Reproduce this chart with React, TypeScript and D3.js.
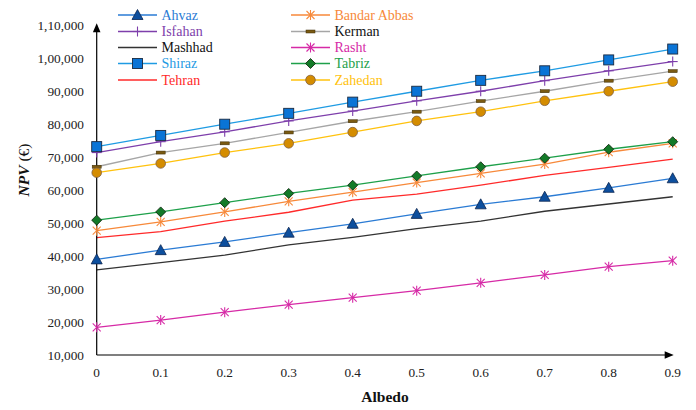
import React from "react";
import * as d3 from "d3";

const albedo = [0, 0.1, 0.2, 0.3, 0.4, 0.5, 0.6, 0.7, 0.8, 0.9];
const xTickLabels = ["0", "0.1", "0.2", "0.3", "0.4", "0.5", "0.6", "0.7", "0.8", "0.9"];
const yTickValues = [10000, 20000, 30000, 40000, 50000, 60000, 70000, 80000, 90000, 100000, 110000];
const yTickLabels = ["10,000", "20,000", "30,000", "40,000", "50,000", "60,000", "70,000", "80,000", "90,000", "1,00,000", "1,10,000"];

const ahvaz = [39000, 41800, 44300, 47100, 49800, 52800, 55700, 58000, 60700, 63600];
const bandarAbbas = [47700, 50400, 53400, 56600, 59400, 62300, 65100, 67900, 71500, 74200];
const isfahan = [71400, 74700, 77700, 81000, 84000, 87100, 90000, 93200, 96200, 99000];
const kerman = [67100, 71400, 74200, 77500, 80900, 83800, 87000, 90000, 93200, 96100];
const mashhad = [35800, 38000, 40300, 43400, 45700, 48300, 50600, 53600, 55800, 58000];
const rasht = [18400, 20600, 23000, 25300, 27400, 29500, 31900, 34300, 36800, 38600];
const shiraz = [73200, 76600, 80000, 83300, 86700, 90000, 93300, 96200, 99500, 102800];
const tabriz = [50900, 53400, 56200, 59000, 61500, 64300, 67100, 69700, 72400, 74700];
const tehran = [45600, 47400, 50600, 53300, 57000, 58800, 61500, 64500, 66900, 69400];
const zahedan = [65300, 68100, 71400, 74200, 77600, 81000, 83800, 87100, 90000, 92900];

type Marker = "triangle" | "asterisk" | "plus" | "dash" | "none" | "square" | "diamond" | "circle";
interface Series {
  name: string;
  values: number[];
  line: string;
  text: string;
  marker: Marker;
  fill: string;
  stroke: string;
}

const seriesList: Series[] = [
  { name: "Ahvaz", values: ahvaz, line: "#2a7bd4", text: "#2a7bd4", marker: "triangle", fill: "#0d4f9e", stroke: "#0a2550" },
  { name: "Bandar Abbas", values: bandarAbbas, line: "#f7893a", text: "#f7893a", marker: "asterisk", fill: "none", stroke: "#f7893a" },
  { name: "Isfahan", values: isfahan, line: "#7e3fab", text: "#7e3fab", marker: "plus", fill: "none", stroke: "#7e3fab" },
  { name: "Kerman", values: kerman, line: "#a6a6a6", text: "#111111", marker: "dash", fill: "#7a5a12", stroke: "#3a2a05" },
  { name: "Mashhad", values: mashhad, line: "#333333", text: "#111111", marker: "none", fill: "none", stroke: "none" },
  { name: "Rasht", values: rasht, line: "#d62aa6", text: "#d62aa6", marker: "asterisk", fill: "none", stroke: "#d62aa6" },
  { name: "Shiraz", values: shiraz, line: "#1f9be3", text: "#1f9be3", marker: "square", fill: "#0a74d6", stroke: "#1a2a40" },
  { name: "Tabriz", values: tabriz, line: "#1ea04a", text: "#1ea04a", marker: "diamond", fill: "#137a28", stroke: "#0a200a" },
  { name: "Tehran", values: tehran, line: "#ff2a2a", text: "#ff2a2a", marker: "none", fill: "none", stroke: "none" },
  { name: "Zahedan", values: zahedan, line: "#ffc20e", text: "#ffc20e", marker: "circle", fill: "#d48c00", stroke: "#806040" },
];

const legendLeft = ["Ahvaz", "Isfahan", "Mashhad", "Shiraz", "Tehran"];
const legendRight = ["Bandar Abbas", "Kerman", "Rasht", "Tabriz", "Zahedan"];

const FONT = "'Liberation Serif', 'Times New Roman', serif";

function MarkerShape({ type, cx, cy, fill, stroke }: { type: Marker; cx: number; cy: number; fill: string; stroke: string }) {
  switch (type) {
    case "triangle":
      return <path d={`M${cx},${cy - 5.5} L${cx + 5.5},${cy + 4.5} L${cx - 5.5},${cy + 4.5} Z`} fill={fill} stroke={stroke} strokeWidth={0.8} />;
    case "square":
      return <rect x={cx - 5} y={cy - 5} width={10} height={10} fill={fill} stroke={stroke} strokeWidth={0.9} />;
    case "diamond":
      return <path d={`M${cx},${cy - 5} L${cx + 5},${cy} L${cx},${cy + 5} L${cx - 5},${cy} Z`} fill={fill} stroke={stroke} strokeWidth={0.8} />;
    case "circle":
      return <circle cx={cx} cy={cy} r={4.8} fill={fill} stroke={stroke} strokeWidth={0.8} />;
    case "dash":
      return <rect x={cx - 4.5} y={cy - 1.5} width={9} height={3} fill={fill} stroke={stroke} strokeWidth={0.5} />;
    case "plus":
      return (
        <g stroke={stroke} strokeWidth={1.1}>
          <line x1={cx - 5} y1={cy} x2={cx + 5} y2={cy} />
          <line x1={cx} y1={cy - 5} x2={cx} y2={cy + 5} />
        </g>
      );
    case "asterisk":
      return (
        <g stroke={stroke} strokeWidth={1.1}>
          <line x1={cx - 4} y1={cy - 4} x2={cx + 4} y2={cy + 4} />
          <line x1={cx - 4} y1={cy + 4} x2={cx + 4} y2={cy - 4} />
          <line x1={cx} y1={cy - 5} x2={cx} y2={cy + 5} />
        </g>
      );
    default:
      return null;
  }
}

export default function App() {
  const width = 696;
  const height = 410;
  const x = d3.scaleLinear().domain([0, 0.9]).range([96.7, 672.7]);
  const y = d3.scaleLinear().domain([10000, 110000]).range([355, 25.3]);
  const lineGen = d3
    .line<number>()
    .x((_, i) => x(albedo[i]))
    .y((d) => y(d));

  const byName = (n: string) => seriesList.find((s) => s.name === n)!;
  const legendRows = [15, 31.5, 47.5, 63.5, 80];

  const x0 = x(0);
  const y0 = y(10000);
  const yTop = y(110000);
  const xEnd = x(0.9);

  return (
    <svg width={width} height={height} style={{ position: "absolute", left: 0, top: 0, background: "#fff" }} fontFamily={FONT}>
      <rect width={width} height={height} fill="#fff" />
      {/* series lines */}
      {seriesList.map((s) => (
        <path key={s.name + "l"} d={lineGen(s.values) || ""} fill="none" stroke={s.line} strokeWidth={1.3} />
      ))}
      {/* axes */}
      <line x1={x0} y1={y0} x2={x0} y2={yTop + 6} stroke="#000" strokeWidth={1.2} />
      <path d={`M${x0},${yTop - 2} L${x0 + 3.8},${yTop + 7} L${x0 - 3.8},${yTop + 7} Z`} fill="#000" />
      <line x1={x0} y1={y0} x2={xEnd - 6} y2={y0} stroke="#000" strokeWidth={1.2} />
      <path d={`M${xEnd + 1},${y0} L${xEnd - 8},${y0 - 3.8} L${xEnd - 8},${y0 + 3.8} Z`} fill="#000" />
      {/* markers */}
      {seriesList.map((s) =>
        s.values.map((v, i) => (
          <MarkerShape key={s.name + i} type={s.marker} cx={x(albedo[i])} cy={y(v)} fill={s.fill} stroke={s.stroke} />
        ))
      )}
      {/* y ticks */}
      {yTickValues.map((v, i) => (
        <text key={"yt" + i} x={84} y={y(v)} dy="0.35em" textAnchor="end" fontSize={13.3} fill="#222">
          {yTickLabels[i]}
        </text>
      ))}
      {/* x ticks */}
      {albedo.map((v, i) => (
        <text key={"xt" + i} x={x(v)} y={372} dy="0.35em" textAnchor="middle" fontSize={13.3} fill="#222">
          {xTickLabels[i]}
        </text>
      ))}
      {/* axis titles */}
      <text x={385} y={397} dy="0.35em" textAnchor="middle" fontSize={15.5} fontWeight="bold" fill="#111">
        Albedo
      </text>
      <text transform={`translate(24,170) rotate(-90)`} dy="0.35em" textAnchor="middle" fontSize={15.5} fill="#111">
        <tspan fontWeight="bold" fontStyle="italic">NPV</tspan>
        <tspan> (€)</tspan>
      </text>
      {/* legend */}
      {[legendLeft, legendRight].map((col, ci) =>
        col.map((n, ri) => {
          const s = byName(n);
          const lx1 = ci === 0 ? 118 : 291;
          const lx2 = lx1 + 39;
          const ly = legendRows[ri];
          return (
            <g key={"lg" + n}>
              <line x1={lx1} y1={ly} x2={lx2} y2={ly} stroke={s.line} strokeWidth={1.3} />
              <MarkerShape type={s.marker} cx={(lx1 + lx2) / 2} cy={ly} fill={s.fill} stroke={s.stroke} />
              <text x={lx2 + 4.5} y={ly} dy="0.35em" fontSize={14} fill={s.text}>
                {n}
              </text>
            </g>
          );
        })
      )}
    </svg>
  );
}
